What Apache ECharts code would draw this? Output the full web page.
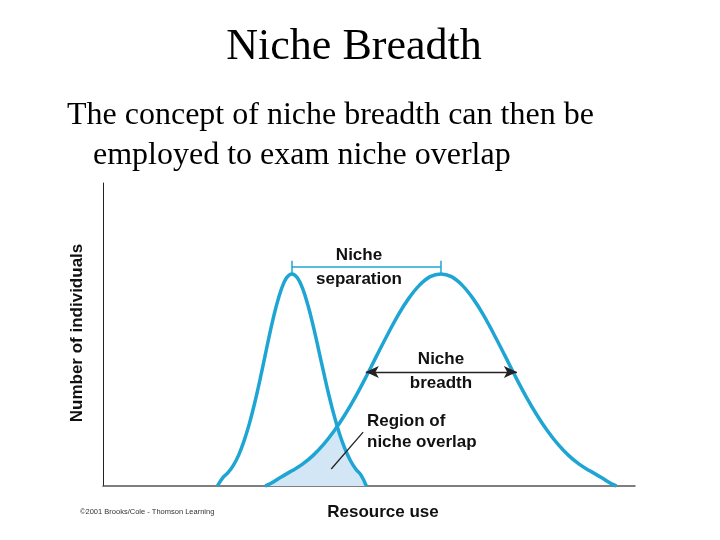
<!DOCTYPE html>
<html>
<head>
<meta charset="utf-8">
<script src="https://cdn.jsdelivr.net/npm/echarts@6/dist/echarts.min.js"></script>
<style>
html,body{margin:0;padding:0;background:#fff;}
#chart{width:720px;height:540px;}
</style>
</head>
<body>
<div id="chart"></div>
<script>
// Species 1 (narrow niche) — resource use vs number of individuals
const curve1X = [21.5, 22.5, 23.5, 24.5, 25.5, 26.5, 27.5, 28.5, 29.5, 30.5, 31.5, 32.5, 33.5, 34.5, 35.5, 36.5, 37.5, 38.5, 39.5, 40.5, 41.5, 42.5, 43.5, 44.5, 45.5, 46.5, 47.5, 48.5, 49.5];
const curve1Y = [0, 2.7, 4.4, 6.8, 10.2, 14.8, 20.5, 27.3, 35.0, 43.3, 51.5, 58.9, 64.8, 68.7, 70, 68.8, 65.3, 59.8, 52.9, 45.2, 37.3, 29.7, 22.9, 17.0, 12.2, 8.4, 5.6, 3.6, 0];
// Species 2 (broad niche)
const curve2X = [30.5, 31.5, 33.5, 35.5, 37.5, 39.5, 41.5, 43.5, 45.5, 47.5, 49.5, 51.5, 53.5, 55.5, 57.5, 59.5, 61.5, 63.5, 65.5, 67.5, 69.5, 71.5, 73.5, 75.5, 77.5, 79.5, 81.5, 83.5, 85.5, 87.5, 89.5, 91.5, 93.5, 95.5, 96.5];
const curve2Y = [0, 0.8, 3.0, 5.0, 7.2, 10.1, 13.8, 18.3, 23.6, 29.6, 36.2, 43.2, 50.0, 56.5, 62.0, 66.3, 69.1, 70, 69.1, 66.3, 62.0, 56.5, 50.0, 43.2, 36.2, 29.6, 23.6, 18.3, 13.8, 10.1, 7.2, 5.0, 3.0, 0.8, 0];
// Region of niche overlap (boundary: species 2 rising edge, then species 1 falling edge)
const overlapX = [30.5, 31.5, 33.5, 35.5, 37.5, 39.5, 41.5, 43.5, 44, 44.5, 45.5, 46.5, 47.5, 48.5, 49.5];
const overlapY = [0, 0.8, 3.0, 5.0, 7.2, 10.1, 13.8, 18.3, 19.8, 17.0, 12.2, 8.4, 5.6, 3.6, 0];
// Annotation anchors (data units)
const separationX = [35.5, 63.5];
const separationY = 72.3;
const breadthX = [49.4, 77.8];
const breadthY = 37.6;
const overlapPointer = [[48.9, 17.8], [42.9, 5.6]];

const zip = (xs, ys) => xs.map((x, i) => [x, ys[i]]);

const curveColor = '#1FA5D3';
const chart = echarts.init(document.getElementById('chart'), null, {renderer: 'canvas'});
const sans = 'Liberation Sans, Arial, Helvetica, sans-serif';
const serif = 'Liberation Serif, Times New Roman, serif';

chart.setOption({
  backgroundColor: '#ffffff',
  animation: false,
  grid: {left: 103, right: 85, top: 183, bottom: 54},
  xAxis: {
    type: 'value', min: 0, max: 100,
    axisLine: {show: true, lineStyle: {color: '#555', width: 1.5}},
    axisTick: {show: false}, axisLabel: {show: false}, splitLine: {show: false}
  },
  yAxis: {
    type: 'value', min: 0, max: 100,
    axisLine: {show: true, lineStyle: {color: '#222', width: 1}},
    axisTick: {show: false}, axisLabel: {show: false}, splitLine: {show: false}
  },
  series: [
    {
      type: 'line', data: zip(overlapX, overlapY), smooth: false, symbol: 'none',
      lineStyle: {width: 0}, areaStyle: {color: '#D2E6F5', opacity: 1}, z: 1
    },
    {
      type: 'line', data: zip(curve1X, curve1Y), smooth: 0.4, symbol: 'none',
      lineStyle: {color: curveColor, width: 3.5}, z: 3,
      markLine: {
        silent: true, symbol: 'none', animation: false,
        label: {show: false},
        lineStyle: {color: curveColor, width: 1.5, type: 'solid'},
        data: [
          [{coord: [separationX[0], separationY]}, {coord: [separationX[1], separationY]}],
          [{coord: [separationX[0], separationY + 2]}, {coord: [separationX[0], separationY - 2]}],
          [{coord: [separationX[1], separationY + 2]}, {coord: [separationX[1], separationY - 2]}]
        ]
      }
    },
    {
      type: 'line', data: zip(curve2X, curve2Y), smooth: 0.4, symbol: 'none',
      lineStyle: {color: curveColor, width: 3.5}, z: 3,
      markLine: {
        silent: true, animation: false,
        label: {show: false},
        data: [
          [{coord: [breadthX[0], breadthY], symbol: 'arrow', symbolSize: [9, 13]},
           {coord: [breadthX[1], breadthY], symbol: 'arrow', symbolSize: [9, 13]}],
          [{coord: overlapPointer[0], symbol: 'none'}, {coord: overlapPointer[1], symbol: 'none'}]
        ],
        lineStyle: {color: '#222', width: 1.3, type: 'solid'}
      }
    }
  ],
  graphic: [
    {type: 'text', x: 354, y: 47, style: {text: 'Niche Breadth', font: '44px ' + serif, fill: '#000', align: 'center', verticalAlign: 'middle'}},
    {type: 'text', x: 67, y: 116, style: {text: 'The concept of niche breadth can then be', font: '32px ' + serif, fill: '#000', verticalAlign: 'middle'}},
    {type: 'text', x: 93, y: 156, style: {text: 'employed to exam niche overlap', font: '32px ' + serif, fill: '#000', verticalAlign: 'middle'}},
    {type: 'text', x: 359, y: 255, style: {text: 'Niche', font: 'bold 17px ' + sans, fill: '#111', align: 'center', verticalAlign: 'middle'}},
    {type: 'text', x: 359, y: 279, style: {text: 'separation', font: 'bold 17px ' + sans, fill: '#111', align: 'center', verticalAlign: 'middle'}},
    {type: 'text', x: 441, y: 359, style: {text: 'Niche', font: 'bold 17px ' + sans, fill: '#111', align: 'center', verticalAlign: 'middle'}},
    {type: 'text', x: 441, y: 383, style: {text: 'breadth', font: 'bold 17px ' + sans, fill: '#111', align: 'center', verticalAlign: 'middle'}},
    {type: 'text', x: 367, y: 421, style: {text: 'Region of', font: 'bold 17px ' + sans, fill: '#111', verticalAlign: 'middle'}},
    {type: 'text', x: 367, y: 442, style: {text: 'niche overlap', font: 'bold 17px ' + sans, fill: '#111', verticalAlign: 'middle'}},
    {type: 'text', x: 383, y: 512, style: {text: 'Resource use', font: 'bold 17px ' + sans, fill: '#111', align: 'center', verticalAlign: 'middle'}},
    {type: 'text', x: 77, y: 333, rotation: Math.PI / 2, style: {text: 'Number of individuals', font: 'bold 17px ' + sans, fill: '#111', align: 'center', verticalAlign: 'middle'}},
    {type: 'text', x: 80, y: 512, style: {text: '©2001 Brooks/Cole - Thomson Learning', font: '7.5px ' + sans, fill: '#333', verticalAlign: 'middle'}}
  ]
});
</script>
</body>
</html>
